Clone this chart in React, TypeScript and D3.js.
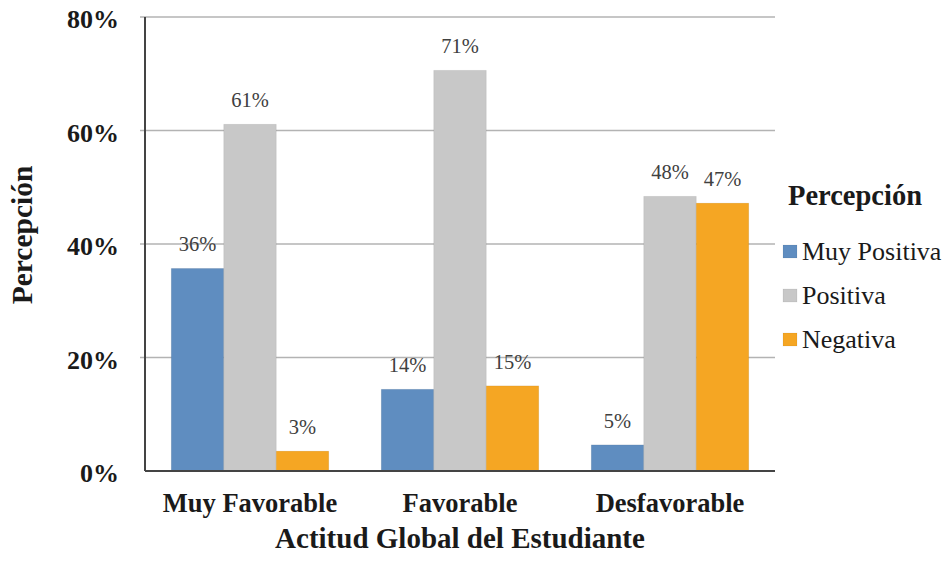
import { useEffect, useRef } from 'react';
import * as d3 from 'd3';

const categories = ["Muy Favorable", "Favorable", "Desfavorable"];
const seriesNames = ["Muy Positiva", "Positiva", "Negativa"];
const muyPositiva = [0.357, 0.144, 0.046];
const positiva = [0.611, 0.706, 0.484];
const negativa = [0.035, 0.15, 0.472];
const labels = [
  ["36%", "61%", "3%"],
  ["14%", "71%", "15%"],
  ["5%", "48%", "47%"],
];
const yTicks = [0, 0.2, 0.4, 0.6, 0.8];
const colors = ["#5f8dc0", "#c8c8c8", "#f5a623"];

export default function App() {
  const svgRef = useRef<SVGSVGElement>(null);

  useEffect(() => {
    if (!svgRef.current) return;
    const svg = d3.select(svgRef.current);
    svg.selectAll("*").remove();

    const W = 947, H = 562;
    const margin = { top: 17, right: 172, bottom: 91, left: 145 };
    const width = W - margin.left - margin.right;
    const height = H - margin.top - margin.bottom;
    const font = '"Liberation Serif", "Times New Roman", serif';
    const ink = "#1a1a1a";

    svg.attr("width", W).attr("height", H).style("font-family", font);
    const g = svg.append("g").attr("transform", `translate(${margin.left},${margin.top})`);

    const x0 = d3.scaleBand().domain(categories).range([0, width]).paddingInner(0.25).paddingOuter(0.125);
    const x1 = d3.scaleBand().domain(seriesNames).range([0, x0.bandwidth()]);
    const y = d3.scaleLinear().domain([0, 0.8]).range([height, 0]);

    // gridlines
    g.selectAll(".grid").data(yTicks.filter(t => t > 0)).enter().append("line")
      .attr("x1", -5).attr("x2", width)
      .attr("y1", d => y(d)).attr("y2", d => y(d))
      .attr("stroke", "#b3b3b3").attr("stroke-width", 1.5);

    g.selectAll(".ytick").data(yTicks).enter().append("text")
      .attr("x", -26).attr("y", d => y(d)).attr("dy", "0.44em")
      .attr("text-anchor", "end")
      .style("font-size", "26px").style("font-weight", "bold").style("fill", ink)
      .text(d => `${Math.round(d * 100)}%`);

    const series = [muyPositiva, positiva, negativa];
    categories.forEach((cat, ci) => {
      const grp = g.append("g").attr("transform", `translate(${x0(cat)},0)`);
      seriesNames.forEach((s, si) => {
        const v = series[si][ci];
        grp.append("rect")
          .attr("x", x1(s)!).attr("width", x1.bandwidth())
          .attr("y", y(v)).attr("height", height - y(v))
          .attr("fill", colors[si])
          .attr("stroke", "rgba(0,0,0,0.08)").attr("stroke-width", 0.8);
        grp.append("text")
          .attr("x", x1(s)! + x1.bandwidth() / 2).attr("y", y(v) - 17)
          .attr("text-anchor", "middle")
          .style("font-size", "20.5px").style("fill", "#404040")
          .text(labels[ci][si]);
      });
    });

    // axis lines
    g.append("line").attr("x1", 0).attr("x2", 0).attr("y1", 0).attr("y2", height)
      .attr("stroke", "#444").attr("stroke-width", 2);
    g.append("line").attr("x1", 0).attr("x2", width).attr("y1", height).attr("y2", height)
      .attr("stroke", "#444").attr("stroke-width", 2);

    g.selectAll(".xlab").data(categories).enter().append("text")
      .attr("x", d => x0(d)! + x0.bandwidth() / 2).attr("y", 512 - margin.top)
      .attr("text-anchor", "middle")
      .style("font-size", "26.5px").style("font-weight", "bold").style("fill", ink)
      .text(d => d);

    svg.append("text")
      .attr("x", 460).attr("y", 548)
      .attr("text-anchor", "middle")
      .style("font-size", "29px").style("font-weight", "bold").style("fill", ink)
      .text("Actitud Global del Estudiante");

    svg.append("text")
      .attr("transform", `translate(32,235) rotate(-90)`)
      .attr("text-anchor", "middle")
      .style("font-size", "29.5px").style("font-weight", "bold").style("fill", ink)
      .text("Percepción");

    // legend
    const lg = svg.append("g").attr("transform", "translate(783,0)");
    lg.append("text").attr("x", 5).attr("y", 205)
      .style("font-size", "28.5px").style("font-weight", "bold").style("fill", ink)
      .text("Percepción");
    const baselines = [260, 304, 348];
    seriesNames.forEach((s, i) => {
      const b = baselines[i];
      lg.append("rect").attr("x", 0).attr("y", b - 15).attr("width", 14).attr("height", 13)
        .attr("fill", colors[i]).attr("stroke", "rgba(0,0,0,0.1)").attr("stroke-width", 0.6);
      lg.append("text").attr("x", 19).attr("y", b)
        .style("font-size", "26px").style("fill", ink)
        .text(s);
    });
  }, []);

  return <svg ref={svgRef} style={{ position: "absolute", left: 0, top: 0, display: "block" }}></svg>;
}
